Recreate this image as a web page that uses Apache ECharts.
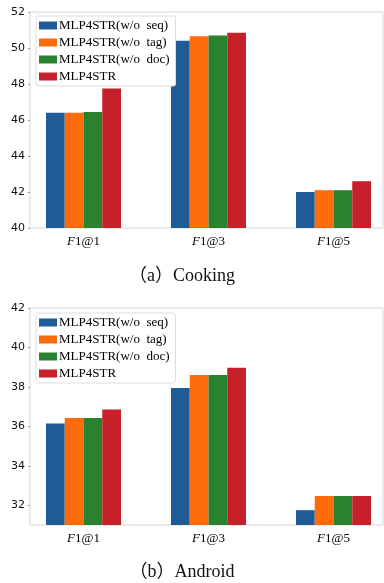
<!DOCTYPE html>
<html><head><meta charset="utf-8">
<style>html,body{margin:0;padding:0;background:#fff}#c{width:384px;height:583px}</style>
<script src="https://cdn.jsdelivr.net/npm/echarts@6/dist/echarts.min.js"></script>
</head><body><div id="c"></div>
<script>
const categories = ['1', '3', '5'];
const seriesNames = ['MLP4STR(w/o  seq)', 'MLP4STR(w/o  tag)', 'MLP4STR(w/o  doc)', 'MLP4STR'];
const colors = ['#1f5c97', '#fd6b0b', '#2a822e', '#c6212a'];
const cookingWoSeq = [46.4, 50.4, 42.0];
const cookingWoTag = [46.4, 50.65, 42.1];
const cookingWoDoc = [46.45, 50.7, 42.1];
const cookingFull = [47.75, 50.85, 42.6];
const androidWoSeq = [36.15, 37.95, 31.75];
const androidWoTag = [36.42, 38.6, 32.47];
const androidWoDoc = [36.42, 38.6, 32.47];
const androidFull = [36.85, 38.97, 32.47];
const cookingTicks = [40, 42, 44, 46, 48, 50, 52];
const androidTicks = [32, 34, 36, 38, 40, 42];
const captions = ['（a）Cooking', '（b）Android'];

const cooking = [cookingWoSeq, cookingWoTag, cookingWoDoc, cookingFull];
const android = [androidWoSeq, androidWoTag, androidWoDoc, androidFull];

const serif = '"Liberation Serif", "DejaVu Serif", serif';
function xAxis(gi) {
  return {
    type: 'value', gridIndex: gi, min: -0.428, max: 2.396,
    axisLine: {show: false, onZero: false}, axisTick: {show: false}, splitLine: {show: false},
    axisLabel: {
      customValues: [0, 1, 2], margin: 7,
      formatter: v => '{i|F}{n|1@' + categories[Math.round(v)] + '}',
      rich: {
        i: {fontFamily: serif, fontStyle: 'italic', fontSize: 13, color: '#000'},
        n: {fontFamily: serif, fontSize: 13, color: '#000'}
      }
    }
  };
}
function yAxis(gi, min, max, ticks) {
  return {
    type: 'value', gridIndex: gi, min: min, max: max,
    axisLine: {show: false, onZero: false},
    splitLine: {show: false},
    axisTick: {show: true, customValues: ticks, length: 2, lineStyle: {color: '#999'}},
    axisLabel: {customValues: ticks, fontFamily: '"DejaVu Sans", sans-serif', fontSize: 11, color: '#111', margin: 5}
  };
}
function legend(top) {
  return {
    orient: 'vertical', left: 36, top: top, itemWidth: 18, itemHeight: 8, itemGap: 4,
    padding: [3, 6, 3, 3], backgroundColor: '#fff', borderColor: '#ddd', borderWidth: 1, borderRadius: 2,
    icon: 'rect', data: seriesNames,
    textStyle: {fontFamily: serif, fontSize: 13, lineHeight: 13, color: '#000', padding: [0, 0, 0, -3]}
  };
}
const series = [];
[cooking, android].forEach((set, gi) => {
  set.forEach((vals, si) => {
    series.push({
      type: 'bar', name: seriesNames[si], xAxisIndex: gi, yAxisIndex: gi,
      barWidth: 18.75, barGap: '0%', itemStyle: {color: colors[si]},
      data: vals.map((v, k) => [k, v]), animation: false
    });
  });
});
const chart = echarts.init(document.getElementById('c'), null, {renderer: 'canvas'});
chart.setOption({
  animation: false,
  grid: [
    {left: 30, right: 1, top: 12, height: 216, show: true, borderColor: '#d6d6d6', borderWidth: 1, backgroundColor: '#fff'},
    {left: 30, right: 1, top: 308, height: 217, show: true, borderColor: '#d6d6d6', borderWidth: 1, backgroundColor: '#fff'}
  ],
  xAxis: [xAxis(0), xAxis(1)],
  yAxis: [yAxis(0, 40, 52, cookingTicks), yAxis(1, 31, 42, androidTicks)],
  legend: [legend(16), legend(313)],
  series: series,
  graphic: [
    {type: 'text', x: 182, y: 276, style: {text: captions[0], font: '18px "Liberation Serif", "Noto Sans CJK SC", serif', fill: '#111', textAlign: 'center', textVerticalAlign: 'middle'}},
    {type: 'text', x: 182, y: 572, style: {text: captions[1], font: '18px "Liberation Serif", "Noto Sans CJK SC", serif', fill: '#111', textAlign: 'center', textVerticalAlign: 'middle'}}
  ]
});
</script></body></html>
